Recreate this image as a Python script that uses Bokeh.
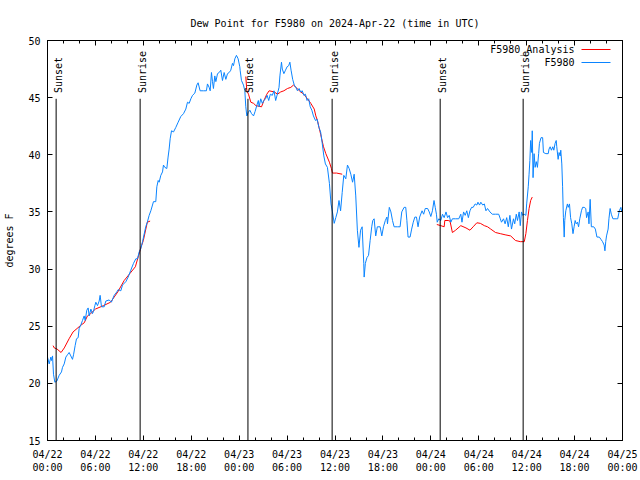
import math
from bokeh.plotting import figure
from bokeh.models import (Range1d, FixedTicker, LinearAxis, CustomJSTickFormatter,
                          ColumnDataSource, Label)
from bokeh.core.properties import value
from bokeh.embed import file_html
from bokeh.resources import INLINE

NaN = float("nan")

# ---------------- data (hours since 2024-04-22 00:00 UTC, degrees F) ----------------
blue_hours = [0.0,0.21,0.42,0.5,0.63,0.75,0.92,1.17,1.46,1.75,1.88,2.09,2.3,2.5,2.71,2.92,3.13,3.26,3.46,3.63,3.84,3.96,4.17,4.38,4.59,4.72,4.92,5.09,5.22,5.43,5.63,5.76,5.93,6.05,6.26,6.47,6.59,6.76,7.1,7.3,7.72,8.0,8.35,8.68,8.85,9.18,9.39,9.81,10.1,10.43,10.77,11.06,11.27,11.48,11.69,11.9,
              12.3,12.5,12.73,12.94,13.27,13.56,13.69,13.86,13.98,14.19,14.4,14.52,14.69,14.94,15.1,15.23,15.36,15.53,15.78,16.07,16.36,16.69,17.03,17.32,17.53,17.74,17.95,18.16,18.45,18.7,18.86,19.11,19.53,19.9,20.03,20.24,20.37,20.53,20.66,20.78,20.95,21.08,21.29,21.5,21.7,21.91,22.12,22.33,22.54,22.75,22.95,23.16,23.29,23.46,23.66,23.87,24.08,
              24.12,24.29,24.54,24.71,24.83,24.96,25.13,25.34,25.55,25.8,26.0,26.2,26.4,26.5,26.7,26.9,27.1,27.3,27.5,27.7,27.9,28.15,28.36,28.57,28.78,28.99,29.1,29.3,29.4,29.6,29.8,30.0,30.2,30.35,30.5,30.7,30.9,31.1,31.3,31.5,31.7,31.9,32.1,32.3,32.5,32.7,32.9,33.1,33.3,33.56,33.77,33.98,34.2,
              34.4,34.6,34.8,35.05,35.3,35.5,35.68,35.9,36.1,36.3,36.5,36.7,36.9,37.1,37.35,37.56,37.77,37.98,38.2,38.4,38.6,38.8,39.0,39.2,39.4,39.6,39.65,39.8,40.0,40.2,40.4,40.6,40.73,40.9,41.1,41.3,41.65,41.86,42.07,42.3,42.5,42.57,42.8,43.0,43.2,43.4,43.8,44.15,44.36,44.65,44.86,45.0,45.15,45.4,45.6,45.8,46.0,46.2,46.4,46.6,46.9,47.1,47.3,47.6,47.8,
              48.0,48.2,48.4,48.55,48.7,48.8,49.0,49.25,49.46,49.67,49.9,50.1,50.3,50.5,50.7,51.1,51.5,51.75,51.9,52.1,52.3,52.5,52.7,52.9,53.1,53.3,53.55,53.76,53.9,54.1,54.26,54.5,54.7,54.9,55.1,55.4,55.7,56.1,56.5,56.7,56.85,57.1,57.3,57.5,57.7,57.9,58.1,58.35,58.5,58.7,58.85,59.06,59.2,59.35,59.5,59.68,59.9,
              60.0,60.2,60.3,60.4,60.5,60.64,60.7,60.8,60.93,61.06,61.2,61.35,61.5,61.6,61.8,62.0,62.1,62.4,62.7,62.8,62.94,63.1,63.27,63.4,63.56,63.7,63.77,63.94,64.06,64.2,64.27,64.4,64.5,64.6,64.7,64.77,64.9,65.1,65.2,65.36,65.5,65.65,65.8,65.94,66.07,66.2,66.36,66.5,66.65,66.86,67.0,67.2,67.4,67.5,67.7,67.8,67.95,68.1,68.4,68.6,68.8,69.1,69.3,69.5,69.7,69.8,69.9,70.0,70.2,70.3,70.45,70.6,70.8,71.2,71.4,71.6,71.8,71.9,72.0]
blue_dewpt = [22.3,21.7,22.3,22.0,22.4,20.8,20.1,20.2,20.7,21.0,21.4,21.7,22.3,22.5,22.7,22.4,22.1,22.5,23.3,23.9,24.0,24.8,25.1,25.5,25.9,25.5,26.4,26.6,25.9,26.5,26.1,26.3,26.8,27.1,26.8,27.2,27.7,26.7,26.7,27.2,27.3,27.1,27.7,28.0,28.2,28.1,28.6,28.9,29.3,29.9,30.5,30.9,30.9,31.5,31.8,32.4,
              33.7,34.1,34.7,35.1,35.9,35.9,37.2,37.75,37.6,38.2,38.5,39.1,38.9,38.8,39.8,40.5,41.4,42.1,42.0,42.4,42.85,43.35,43.6,44.0,44.6,44.5,44.9,45.2,45.4,46.1,46.3,45.6,45.6,45.6,46.2,45.9,45.6,47.2,46.4,45.8,46.9,46.4,47.1,47.2,47.4,46.5,47.2,46.6,47.1,47.2,47.4,48.0,47.8,48.4,48.7,48.4,47.7,
              47.4,46.5,46.1,45.6,44.2,43.4,43.7,43.9,43.6,43.4,43.8,44.3,44.75,44.2,44.9,44.5,44.75,44.9,45.2,44.75,45.3,45.2,45.6,44.75,45.3,45.9,46.9,48.1,47.5,47.1,47.4,47.7,47.8,48.1,47.4,46.6,46.1,45.9,45.6,45.8,45.5,45.6,45.2,45.3,44.75,44.9,44.2,43.9,43.4,43.0,43.1,42.4,42.0,
              41.0,39.9,39.2,38.9,37.5,35.7,35.0,34.0,34.5,35.0,36.0,35.1,36.7,38.2,37.9,39.1,38.8,38.3,37.6,38.3,36.4,33.4,31.9,33.4,33.7,30.5,29.3,30.5,31.0,31.2,32.5,33.7,34.25,34.4,32.9,33.7,33.7,32.9,33.7,34.25,34.55,33.96,35.4,35.0,34.25,33.7,33.7,33.7,35.0,35.4,35.4,34.25,32.8,32.8,33.5,34.1,34.55,34.55,33.7,34.55,35.1,34.8,35.3,35.3,35.0,
              34.6,35.1,36.0,35.4,34.8,34.1,34.4,34.25,34.8,34.5,35.0,34.5,34.7,34.1,34.4,34.4,34.4,34.8,34.1,35.0,34.7,35.1,34.5,35.1,35.4,35.4,35.7,35.6,35.85,35.6,35.85,35.6,35.7,35.1,35.3,35.0,34.8,34.8,34.8,34.4,34.1,34.4,33.96,34.5,33.7,34.7,33.5,34.4,33.96,34.8,34.25,35.0,33.8,35.0,34.7,34.8,34.7,
              35.7,37.2,38.3,39.5,41.25,40.2,42.1,38.0,40.1,38.9,39.4,38.9,40.1,41.0,41.5,41.5,40.2,40.1,40.1,40.5,40.7,40.4,40.7,40.4,41.0,41.25,40.7,39.6,40.2,39.9,40.4,39.2,37.2,34.5,32.8,34.25,35.1,35.7,35.4,35.7,34.5,33.96,33.1,33.7,34.25,33.96,34.1,33.7,34.4,35.1,35.4,35.4,35.3,34.5,35.0,33.96,36.1,33.7,33.7,33.5,32.8,32.8,32.6,32.4,32.1,31.6,32.4,32.9,33.5,34.4,35.3,34.8,34.4,34.4,34.4,35.1,35.4,35.0,35.4]

red_hours = [0.7,0.85,1.2,1.7,2.1,2.7,3.2,3.7,4.2,4.6,5.0,5.4,6.0,7.0,7.9,8.8,9.6,10.3,11.0,11.7,12.0,12.5,12.85,
             NaN,
             24.83,24.96,25.17,25.46,25.8,26.1,26.8,27.1,27.46,27.75,28.4,28.8,29.2,29.6,30.05,30.47,30.8,31.1,31.4,31.7,32.1,32.55,32.97,33.4,33.6,33.8,34.0,34.2,34.56,34.85,35.3,35.55,35.68,36.2,36.9,
             NaN,
             48.75,49.25,49.67,49.75,50.17,50.4,50.7,51.1,51.75,52.4,52.9,53.3,53.76,54.2,54.7,55.1,55.5,56.1,56.7,57.3,58.0,58.6,59.2,59.7,59.9,60.1,60.3,60.5,60.7]
red_dewpt = [23.3,23.1,23.0,22.7,23.1,23.9,24.5,24.8,25.1,25.3,25.9,26.1,26.5,26.8,27.1,28.0,29.0,29.6,30.2,31.9,32.5,34.1,34.2,
             NaN,
             46.85,45.6,45.3,44.6,44.5,44.3,44.2,44.75,45.3,45.6,45.5,45.3,45.5,45.6,45.8,45.9,46.1,45.9,45.7,45.5,45.3,44.9,44.5,44.0,43.4,43.0,42.4,41.8,40.7,40.1,39.35,38.8,38.4,38.4,38.3,
             NaN,
             33.9,33.8,33.7,34.25,34.25,34.2,33.2,33.4,33.8,33.6,33.4,33.7,34.05,34.0,33.8,33.7,33.5,33.2,33.1,33.0,32.9,32.5,32.4,32.4,33.1,34.25,35.3,36.0,36.3]

sun_hours = [1.08, 11.6, 25.1, 35.64, 49.17, 59.56]
sun_labels = ["Sunset", "Sunrise", "Sunset", "Sunrise", "Sunset", "Sunrise"]

x_ticks = [0, 6, 12, 18, 24, 30, 36, 42, 48, 54, 60, 66, 72]
x_tick_labels = ["04/22\n00:00", "04/22\n06:00", "04/22\n12:00", "04/22\n18:00",
                 "04/23\n00:00", "04/23\n06:00", "04/23\n12:00", "04/23\n18:00",
                 "04/24\n00:00", "04/24\n06:00", "04/24\n12:00", "04/24\n18:00",
                 "04/25\n00:00"]
x_minor_ticks = list(range(0, 73, 2))
y_ticks = [15, 20, 25, 30, 35, 40, 45, 50]

series_names = ["F5980_Analysis", "F5980"]
series_colors = ["#ff0000", "#0a84ff"]

FONT = "DejaVu Sans Mono"
XMIN, XMAX, YMIN, YMAX = 0, 72, 15, 50
FW, FH = 575, 400

p = figure(frame_width=FW, frame_height=FH, output_backend="svg", toolbar_location=None,
           x_range=Range1d(XMIN, XMAX), y_range=Range1d(YMIN, YMAX),
           min_border_left=47, min_border_right=18, min_border_top=40, min_border_bottom=40,
           title="Dew Point for F5980 on 2024-Apr-22 (time in UTC)")
p.title.align = "center"
p.title.text_font = FONT
p.title.text_font_size = "10px"
p.title.text_font_style = "normal"
p.title.text_color = "black"
p.title.standoff = 24

p.xgrid.visible = False
p.ygrid.visible = False
p.outline_line_color = "black"
p.outline_line_alpha = 1.0
p.outline_line_width = 1
p.background_fill_color = "white"
p.border_fill_color = "white"

def style_axis(ax, show_labels=True):
    ax.axis_line_color = "black"
    ax.major_tick_line_color = "black"
    ax.minor_tick_line_color = "black"
    ax.major_tick_in = 5
    ax.major_tick_out = 0
    ax.minor_tick_in = 3
    ax.minor_tick_out = 0
    ax.major_label_text_font = FONT
    ax.major_label_text_font_size = "10px"
    ax.major_label_text_color = "black"
    if not show_labels:
        ax.formatter = CustomJSTickFormatter(code="return ''")
        ax.major_label_standoff = 0

xax = p.xaxis[0]
xax.ticker = FixedTicker(ticks=x_ticks, minor_ticks=x_minor_ticks)
xax.major_label_overrides = {t: l for t, l in zip(x_ticks, x_tick_labels)}
style_axis(xax)
xax.major_label_standoff = 8
xax.major_label_text_line_height = 1.2

yax = p.yaxis[0]
yax.ticker = FixedTicker(ticks=y_ticks, minor_ticks=[])
style_axis(yax)
yax.major_label_standoff = 7
yax.axis_label = "degrees F"
yax.axis_label_text_font = FONT
yax.axis_label_text_font_size = "10px"
yax.axis_label_text_font_style = "normal"
yax.axis_label_text_color = "black"
yax.axis_label_standoff = 10

top = LinearAxis(ticker=FixedTicker(ticks=x_ticks, minor_ticks=x_minor_ticks))
style_axis(top, False)
p.add_layout(top, "above")
right = LinearAxis(ticker=FixedTicker(ticks=y_ticks, minor_ticks=[]))
style_axis(right, False)
p.add_layout(right, "right")

# series
p.line(red_hours, red_dewpt, line_color=series_colors[0], line_width=1)
p.line(blue_hours, blue_dewpt, line_color=series_colors[1], line_width=1)

# sunrise / sunset markers
line_top = YMAX - 5.1
label_base = YMAX - 4.6
sun_src = ColumnDataSource(dict(x=sun_hours, y0=[YMIN] * len(sun_hours),
                                y1=[line_top] * len(sun_hours),
                                yl=[label_base] * len(sun_hours), t=sun_labels))
p.segment(x0="x", y0="y0", x1="x", y1="y1", source=sun_src, line_color="black", line_width=1)
p.text(x="x", y="yl", text="t", source=sun_src, angle=math.pi / 2,
       text_align="left", text_baseline="middle", x_offset=2,
       text_font=value(FONT), text_font_size="10px", text_color="black")

# legend (text on left, sample line on right, like the original key)
def fx(px):  # frame pixel -> data x
    return XMIN + (XMAX - XMIN) * px / FW
def fy(py_from_top):
    return YMAX - (YMAX - YMIN) * py_from_top / FH

for i, (name, col) in enumerate(zip(series_names, series_colors)):
    yy = fy(9 + 13 * i)
    p.add_layout(Label(x=fx(527), y=yy, text=name, text_align="right", text_baseline="middle",
                       text_font=FONT, text_font_size="10px", text_color="black"))
    p.segment(x0=[fx(534)], y0=[yy], x1=[fx(563)], y1=[yy], line_color=col, line_width=1)

open("out.html", "w").write(file_html(p, INLINE))
